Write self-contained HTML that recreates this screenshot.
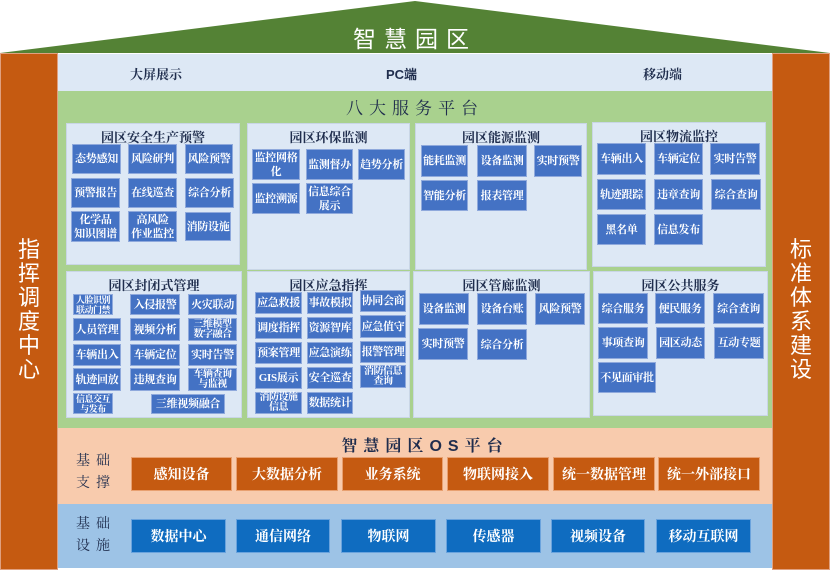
<!DOCTYPE html>
<html><head><meta charset="utf-8"><style>
*{margin:0;padding:0;box-sizing:border-box}
body{width:830px;height:570px;position:relative;background:#fff;overflow:hidden;font-family:"Liberation Serif","Noto Serif CJK SC",serif}
div{position:absolute}
.b{background:#4472c4;border:1px solid #8fa9dc;color:#fff;font-size:11px;display:flex;align-items:center;justify-content:center;text-align:center;line-height:14px;font-weight:bold;white-space:nowrap;letter-spacing:-0.3px}
.s{font-size:9px;line-height:10px;letter-spacing:-0.5px}
.p{background:#dde8f5;border:1px solid #c9d6e6}
.t{color:#1f2d4d;font-size:13px;font-weight:bold;text-align:center;width:100%;top:3px}
.o{background:#c55a11;border:1px solid #e8a070;color:#fff;font-size:14px;display:flex;align-items:center;justify-content:center;font-weight:bold}
.u{background:#0f6cc0;border:1px solid #6aa3dd;color:#fff;font-size:14px;display:flex;align-items:center;justify-content:center;font-weight:bold}
.vl{color:#fff;font-size:22px;width:30px;line-height:24px;text-align:center;font-family:"Liberation Sans","Noto Sans CJK SC",sans-serif}
.lab{font-size:14px;line-height:22px;color:#1f2d4d;letter-spacing:6px;white-space:nowrap}
</style></head><body>
<svg style="position:absolute;left:0;top:0" width="830" height="60"><polygon points="0,53 415,1 830,53" fill="#548235"/></svg>
<div style="left:0;top:20px;width:830px;text-align:center;color:#fff;font-size:23px;letter-spacing:8px;font-family:'Liberation Sans','Noto Sans CJK SC',sans-serif">智慧园区</div>
<div style="left:0;top:53px;width:58px;height:517px;background:#c55a11;border:1px solid #e0a080"></div>
<div style="left:772px;top:53px;width:58px;height:517px;background:#c55a11;border:1px solid #e0a080"></div>
<div class="vl" style="left:14px;top:238px">指挥调度中心</div>
<div class="vl" style="left:786px;top:238px">标准体系建设</div>
<div style="left:58px;top:54px;width:714px;height:37px;background:#dde8f5"></div>
<div style="left:130px;top:64px;font-size:13px;font-weight:bold;color:#1f2d4d">大屏展示</div>
<div style="left:386px;top:64px;font-size:13px;font-weight:bold;color:#1f2d4d;font-family:'Liberation Sans','Noto Sans CJK SC',sans-serif">PC端</div>
<div style="left:643px;top:64px;font-size:13px;font-weight:bold;color:#1f2d4d">移动端</div>
<div style="left:58px;top:91px;width:714px;height:337px;background:#a9d18e"></div>
<div style="left:58px;top:94px;width:714px;text-align:center;font-size:17px;letter-spacing:6px;color:#1f2d4d">八大服务平台</div>

<div class="p" style="left:66px;top:123px;width:174px;height:142px"><div class="t">园区安全生产预警</div></div>
<div class="p" style="left:247px;top:123px;width:163px;height:147px"><div class="t">园区环保监测</div></div>
<div class="p" style="left:415px;top:123px;width:172px;height:147px"><div class="t">园区能源监测</div></div>
<div class="p" style="left:592px;top:122px;width:174px;height:145px"><div class="t">园区物流监控</div></div>
<div class="p" style="left:66px;top:271px;width:176px;height:147px"><div class="t">园区封闭式管理</div></div>
<div class="p" style="left:247px;top:271px;width:163px;height:147px"><div class="t">园区应急指挥</div></div>
<div class="p" style="left:413px;top:271px;width:177px;height:147px"><div class="t">园区管廊监测</div></div>
<div class="p" style="left:593px;top:271px;width:175px;height:145px"><div class="t">园区公共服务</div></div>

<div class="b" style="left:72px;top:144px;width:49px;height:30px">态势感知</div>
<div class="b" style="left:128px;top:144px;width:49px;height:30px">风险研判</div>
<div class="b" style="left:185px;top:144px;width:48px;height:30px">风险预警</div>
<div class="b" style="left:71px;top:178px;width:49px;height:30px">预警报告</div>
<div class="b" style="left:128px;top:178px;width:49px;height:30px">在线巡查</div>
<div class="b" style="left:185px;top:178px;width:49px;height:30px">综合分析</div>
<div class="b" style="left:71px;top:211px;width:49px;height:31px">化学品<br>知识图谱</div>
<div class="b" style="left:128px;top:211px;width:49px;height:31px">高风险<br>作业监控</div>
<div class="b" style="left:185px;top:212px;width:46px;height:29px">消防设施</div>

<div class="b" style="left:252px;top:149px;width:48px;height:31px">监控网格<br>化</div>
<div class="b" style="left:306px;top:149px;width:47px;height:31px">监测督办</div>
<div class="b" style="left:358px;top:149px;width:47px;height:31px">趋势分析</div>
<div class="b" style="left:252px;top:183px;width:48px;height:31px">监控溯源</div>
<div class="b" style="left:306px;top:183px;width:47px;height:31px">信息综合<br>展示</div>

<div class="b" style="left:421px;top:145px;width:47px;height:32px">能耗监测</div>
<div class="b" style="left:477px;top:145px;width:50px;height:32px">设备监测</div>
<div class="b" style="left:534px;top:145px;width:48px;height:32px">实时预警</div>
<div class="b" style="left:421px;top:180px;width:47px;height:31px">智能分析</div>
<div class="b" style="left:477px;top:180px;width:50px;height:31px">报表管理</div>

<div class="b" style="left:597px;top:143px;width:49px;height:32px">车辆出入</div>
<div class="b" style="left:654px;top:143px;width:49px;height:32px">车辆定位</div>
<div class="b" style="left:710px;top:143px;width:50px;height:32px">实时告警</div>
<div class="b" style="left:597px;top:179px;width:49px;height:31px">轨迹跟踪</div>
<div class="b" style="left:654px;top:179px;width:49px;height:31px">违章查询</div>
<div class="b" style="left:711px;top:179px;width:50px;height:31px">综合查询</div>
<div class="b" style="left:597px;top:214px;width:49px;height:31px">黑名单</div>
<div class="b" style="left:654px;top:214px;width:49px;height:31px">信息发布</div>

<div class="b s" style="left:73px;top:294px;width:40px;height:21px">人脸识别<br>联动门禁</div>
<div class="b" style="left:130px;top:294px;width:50px;height:21px">入侵报警</div>
<div class="b" style="left:188px;top:294px;width:49px;height:21px">火灾联动</div>
<div class="b" style="left:73px;top:318px;width:48px;height:23px">人员管理</div>
<div class="b" style="left:130px;top:318px;width:50px;height:23px">视频分析</div>
<div class="b s" style="left:188px;top:318px;width:49px;height:23px;font-size:10px">三维模型<br>数字融合</div>
<div class="b" style="left:73px;top:344px;width:48px;height:22px">车辆出入</div>
<div class="b" style="left:130px;top:344px;width:50px;height:22px">车辆定位</div>
<div class="b" style="left:188px;top:344px;width:49px;height:22px">实时告警</div>
<div class="b" style="left:73px;top:368px;width:48px;height:23px">轨迹回放</div>
<div class="b" style="left:130px;top:368px;width:50px;height:23px">违规查询</div>
<div class="b s" style="left:188px;top:368px;width:49px;height:23px;font-size:10px">车辆查询<br>与监视</div>
<div class="b s" style="left:73px;top:393px;width:40px;height:21px">信息交互<br>与发布</div>
<div class="b" style="left:151px;top:394px;width:74px;height:20px">三维视频融合</div>

<div class="b" style="left:255px;top:292px;width:47px;height:22px">应急救援</div>
<div class="b" style="left:307px;top:292px;width:46px;height:22px">事故模拟</div>
<div class="b" style="left:360px;top:290px;width:46px;height:22px">协同会商</div>
<div class="b" style="left:255px;top:317px;width:47px;height:22px">调度指挥</div>
<div class="b" style="left:307px;top:317px;width:46px;height:22px">资源智库</div>
<div class="b" style="left:360px;top:315px;width:46px;height:23px">应急值守</div>
<div class="b" style="left:255px;top:342px;width:47px;height:22px">预案管理</div>
<div class="b" style="left:307px;top:342px;width:46px;height:22px">应急演练</div>
<div class="b" style="left:360px;top:341px;width:46px;height:22px">报警管理</div>
<div class="b" style="left:255px;top:367px;width:47px;height:22px">GIS展示</div>
<div class="b" style="left:307px;top:367px;width:46px;height:22px">安全巡查</div>
<div class="b s" style="left:360px;top:365px;width:46px;height:23px;font-size:10px">消防信息<br>查询</div>
<div class="b s" style="left:255px;top:392px;width:47px;height:22px;font-size:10px">消防设施<br>信息</div>
<div class="b" style="left:307px;top:392px;width:46px;height:22px">数据统计</div>

<div class="b" style="left:419px;top:293px;width:50px;height:32px">设备监测</div>
<div class="b" style="left:477px;top:293px;width:50px;height:32px">设备台账</div>
<div class="b" style="left:535px;top:293px;width:50px;height:32px">风险预警</div>
<div class="b" style="left:418px;top:328px;width:50px;height:32px">实时预警</div>
<div class="b" style="left:477px;top:329px;width:50px;height:31px">综合分析</div>

<div class="b" style="left:598px;top:293px;width:50px;height:31px">综合服务</div>
<div class="b" style="left:655px;top:293px;width:50px;height:31px">便民服务</div>
<div class="b" style="left:713px;top:293px;width:51px;height:31px">综合查询</div>
<div class="b" style="left:598px;top:327px;width:50px;height:32px">事项查询</div>
<div class="b" style="left:656px;top:327px;width:49px;height:32px">园区动态</div>
<div class="b" style="left:714px;top:327px;width:50px;height:32px">互动专题</div>
<div class="b" style="left:598px;top:362px;width:58px;height:31px">不见面审批</div>

<div style="left:58px;top:428px;width:714px;height:76px;background:#f8cbad"></div>
<div style="left:58px;top:433px;width:714px;text-align:center;font-size:16px;letter-spacing:6px;color:#1f2d4d;font-weight:bold;padding-left:20px">智慧园区<span style="font-family:'Liberation Sans',sans-serif">OS</span>平台</div>
<div class="lab" style="left:76px;top:451px">基础<br>支撑</div>
<div class="o" style="left:131px;top:457px;width:101px;height:34px">感知设备</div>
<div class="o" style="left:236px;top:457px;width:102px;height:34px">大数据分析</div>
<div class="o" style="left:342px;top:457px;width:101px;height:34px">业务系统</div>
<div class="o" style="left:447px;top:457px;width:102px;height:34px">物联网接入</div>
<div class="o" style="left:553px;top:457px;width:102px;height:34px">统一数据管理</div>
<div class="o" style="left:658px;top:457px;width:102px;height:34px">统一外部接口</div>

<div style="left:58px;top:504px;width:714px;height:64px;background:#9dc3e6"></div>
<div class="lab" style="left:76px;top:514px">基础<br>设施</div>
<div class="u" style="left:131px;top:519px;width:95px;height:34px">数据中心</div>
<div class="u" style="left:236px;top:519px;width:94px;height:34px">通信网络</div>
<div class="u" style="left:341px;top:519px;width:95px;height:34px">物联网</div>
<div class="u" style="left:446px;top:519px;width:95px;height:34px">传感器</div>
<div class="u" style="left:551px;top:519px;width:94px;height:34px">视频设备</div>
<div class="u" style="left:656px;top:519px;width:95px;height:34px">移动互联网</div>
</body></html>
